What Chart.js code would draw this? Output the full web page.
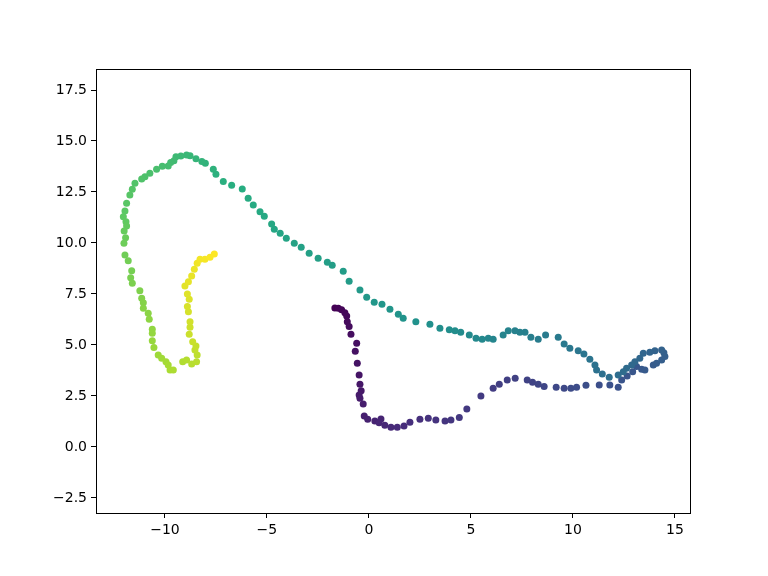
<!DOCTYPE html>
<html>
<head>
<meta charset="utf-8">
<script src="https://cdn.jsdelivr.net/npm/chart.js@4/dist/chart.umd.min.js"></script>
<style>
  html, body { margin: 0; padding: 0; background: #fff; }
</style>
</head>
<body>
<canvas id="myChart" width="768" height="576"></canvas>
<script>
// path of points, in drawing order (colour runs along it)
const pathX = [
  -1.67, -1.50, -1.34, -1.18, -1.09, -1.06, -0.97, -0.88, -0.60, -0.67,
  -0.57, -0.48, -0.44, -0.38, -0.48, -0.44, -0.28, -0.23, -0.06, 0.29,
  0.59, 0.50, 0.78, 1.08, 1.39, 1.72, 2.01, 2.50, 2.91, 3.28,
  3.73, 4.02, 4.43, 4.80, 5.49, 6.09, 6.39, 6.78, 7.17, 7.76,
  8.02, 8.30, 8.59, 9.18, 9.57, 9.90, 10.18, 10.64, 11.29, 11.81,
  12.22, 12.39, 12.66, 12.93, 13.12, 13.37, 13.53, 13.94, 14.10, 14.35,
  14.51, 14.46, 14.35, 14.02, 13.77, 13.45, 13.28, 13.04, 12.88, 12.63,
  12.47, 12.22, 11.78, 11.44, 11.16, 11.08, 10.83, 10.54, 10.26, 9.85,
  9.57, 9.28, 8.66, 8.30, 7.94, 7.65, 7.40, 7.16, 6.83, 6.58,
  6.09, 5.85, 5.55, 5.25, 4.92, 4.50, 4.22, 3.94, 3.48, 2.99,
  2.30, 1.68, 1.44, 1.03, 0.64, 0.26, -0.11, -0.44, -0.97, -1.26,
  -1.80, -2.04, -2.49, -2.93, -3.32, -3.66, -4.05, -4.35, -4.64, -4.77,
  -5.13, -5.34, -5.67, -5.92, -6.21, -6.73, -7.14, -7.50, -7.63, -8.02,
  -8.19, -8.48, -8.77, -8.94, -9.22, -9.46, -9.56, -9.72, -9.84, -10.13,
  -10.41, -10.74, -10.98, -11.14, -11.47, -11.60, -11.72, -11.88, -11.96, -12.04,
  -11.91, -11.88, -12.00, -11.93, -12.01, -11.96, -11.80, -11.63, -11.68, -11.60,
  -11.23, -11.14, -11.06, -11.06, -10.82, -10.77, -10.62, -10.62, -10.62, -10.54,
  -10.33, -10.16, -9.95, -9.84, -9.75, -9.59, -9.13, -8.94, -8.69, -8.45,
  -8.42, -8.53, -8.48, -8.64, -8.81, -8.77, -8.77, -8.85, -8.90, -8.81,
  -8.90, -9.02, -8.85, -8.69, -8.56, -8.42, -8.28, -8.04, -7.79, -7.58
];
const pathY = [
  6.81, 6.80, 6.72, 6.58, 6.42, 6.14, 5.90, 5.52, 5.08, 4.69,
  4.10, 3.53, 3.07, 2.76, 2.55, 2.39, 2.11, 1.52, 1.36, 1.27,
  1.37, 1.19, 1.06, 0.97, 0.97, 1.03, 1.21, 1.36, 1.41, 1.32,
  1.27, 1.32, 1.44, 1.86, 2.50, 2.88, 3.07, 3.28, 3.37, 3.28,
  3.17, 3.07, 2.96, 2.93, 2.88, 2.88, 2.93, 3.02, 3.04, 3.04,
  2.93, 3.28, 3.48, 3.69, 3.94, 3.81, 3.77, 4.02, 4.10, 4.26,
  4.43, 4.62, 4.75, 4.72, 4.64, 4.59, 4.35, 4.18, 4.02, 3.86,
  3.69, 3.53, 3.42, 3.58, 3.77, 4.02, 4.30, 4.56, 4.72, 4.84,
  5.05, 5.38, 5.49, 5.28, 5.38, 5.62, 5.62, 5.69, 5.69, 5.49,
  5.28, 5.33, 5.28, 5.33, 5.49, 5.62, 5.69, 5.74, 5.82, 6.01,
  6.14, 6.31, 6.50, 6.75, 7.00, 7.09, 7.34, 7.70, 8.12, 8.61,
  8.91, 9.05, 9.25, 9.50, 9.79, 9.99, 10.23, 10.48, 10.67, 10.93,
  11.31, 11.53, 11.86, 12.19, 12.65, 12.83, 13.02, 13.37, 13.61, 13.91,
  13.99, 14.13, 14.28, 14.31, 14.26, 14.23, 14.03, 13.94, 13.77, 13.76,
  13.61, 13.42, 13.25, 13.14, 12.93, 12.63, 12.35, 11.95, 11.57, 11.29,
  11.04, 10.83, 10.59, 10.26, 9.99, 9.41, 9.13, 8.64, 8.30, 8.02,
  7.66, 7.29, 7.07, 6.80, 6.55, 6.26, 5.77, 5.57, 5.20, 4.87,
  4.51, 4.35, 4.18, 4.02, 3.77, 3.77, 4.18, 4.26, 4.07, 4.18,
  4.51, 4.75, 4.95, 5.16, 5.52, 5.87, 6.14, 6.63, 6.88, 7.24,
  7.50, 7.89, 8.10, 8.38, 8.71, 9.00, 9.20, 9.20, 9.30, 9.46
];

const xTicks = [-10, -5, 0, 5, 10, 15];
const yTicks = [-2.5, 0, 2.5, 5, 7.5, 10, 12.5, 15, 17.5];

// viridis anchors
const viridis = ['#440154','#472d7b','#3b528b','#2c728e','#21918c','#27ad81','#5ec962','#aadc32','#fde725'];

function hexRgb(h){
  return [parseInt(h.slice(1,3),16), parseInt(h.slice(3,5),16), parseInt(h.slice(5,7),16)];
}
function viridisAt(t){
  const n = viridis.length - 1;
  const f = Math.min(Math.max(t,0),1) * n;
  const i = Math.min(Math.floor(f), n - 1);
  const a = hexRgb(viridis[i]), b = hexRgb(viridis[i+1]);
  const u = f - i;
  const c = a.map((v,k) => Math.round(v + (b[k]-v)*u));
  return 'rgb(' + c.join(',') + ')';
}

const points = pathX.map((x,i) => ({x: x, y: pathY[i]}));
const colors = pathX.map((_,i) => viridisAt(i / (pathX.length - 1)));

const minus = v => String(v).replace('-', '\u2212');

// matplotlib-like box around the axes
const frame = {
  id: 'frame',
  afterDraw(chart){
    const a = chart.chartArea, ctx = chart.ctx;
    ctx.save();
    ctx.strokeStyle = '#000';
    ctx.lineWidth = 1;
    ctx.strokeRect(Math.round(a.left)+0.5, Math.round(a.top)+0.5,
                   Math.round(a.right-a.left), Math.round(a.bottom-a.top));
    ctx.restore();
  }
};

const config = {
  type: 'scatter',
  data: {
    datasets: [{
      data: points,
      backgroundColor: colors,
      borderWidth: 0,
      pointRadius: 3.5,
      pointHoverRadius: 3.5
    }]
  },
  options: {
    responsive: false,
    animation: false,
    layout: { padding: { left: 0, right: 78, top: 69, bottom: 0 } },
    plugins: { legend: { display: false }, tooltip: { enabled: false } },
    scales: {
      x: {
        type: 'linear',
        min: -13.38,
        max: 15.74,
        afterBuildTicks: s => { s.ticks = xTicks.map(v => ({value: v})); },
        afterFit: s => { s.height = 63; },
        ticks: {
          color: '#000',
          font: { family: 'DejaVu Sans', size: 14 },
          padding: 4,
          maxRotation: 0,
          callback: v => minus(v)
        },
        grid: { drawOnChartArea: false, drawTicks: true, tickLength: 5, color: '#000', lineWidth: 1 },
        border: { display: false }
      },
      y: {
        type: 'linear',
        min: -3.24,
        max: 18.53,
        afterBuildTicks: s => { s.ticks = yTicks.map(v => ({value: v})); },
        afterFit: s => { s.width = 96; },
        ticks: {
          color: '#000',
          font: { family: 'DejaVu Sans', size: 14 },
          padding: 4,
          callback: v => minus(v.toFixed(1))
        },
        grid: { drawOnChartArea: false, drawTicks: true, tickLength: 5, color: '#000', lineWidth: 1 },
        border: { display: false }
      }
    }
  },
  plugins: [frame]
};

const myChart = new Chart(document.getElementById('myChart'), config);
</script>
</body>
</html>
